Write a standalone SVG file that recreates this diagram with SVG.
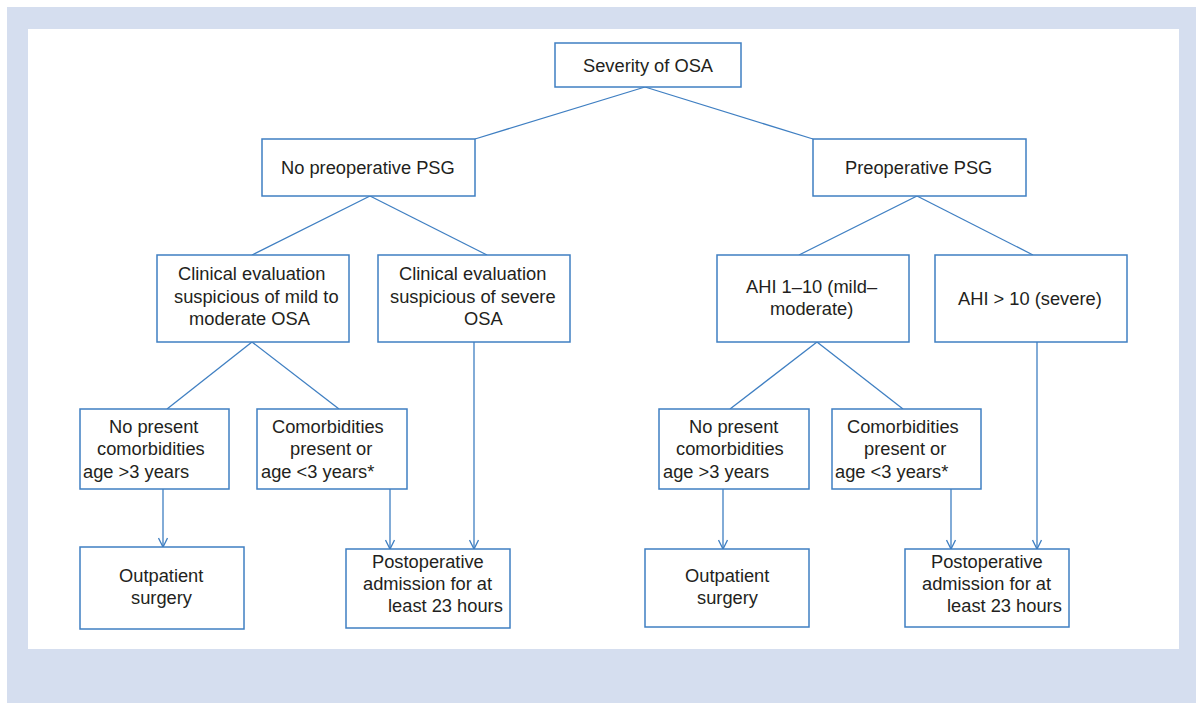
<svg xmlns="http://www.w3.org/2000/svg" width="1196" height="703" viewBox="0 0 1196 703">
<defs>
<style>
.box{fill:#fff;stroke:#3f7fc2;stroke-width:1.5}
.ln{fill:none;stroke:#3f7fc2;stroke-width:1.3}
text{font-family:"Liberation Sans",Arial,sans-serif;font-size:18.3px;fill:#231f20}
</style>
<marker id="arr" viewBox="0 0 12 10" refX="10" refY="5" markerWidth="12" markerHeight="10" markerUnits="userSpaceOnUse" orient="auto">
<path d="M1,0.5 L10,5 L1,9.5" fill="none" stroke="#3f7fc2" stroke-width="1.3"/>
</marker>
</defs>
<rect x="0" y="0" width="1196" height="703" fill="#fff"/>
<rect x="7" y="7" width="1189" height="696" fill="#d5deef"/>
<rect x="28" y="29" width="1151" height="620" fill="#fff"/>

<g id="connectors">
<path class="ln" d="M645,87 L475,139"/>
<path class="ln" d="M645,87 L813,139"/>
<path class="ln" d="M370,196 L252,255"/>
<path class="ln" d="M370,196 L487,255"/>
<path class="ln" d="M917,196 L799,255"/>
<path class="ln" d="M917,196 L1033,255"/>
<path class="ln" d="M252,342 L167,409"/>
<path class="ln" d="M252,342 L339,409"/>
<path class="ln" d="M817,342 L730,409"/>
<path class="ln" d="M817,342 L903,409"/>
<path class="ln" d="M163,489 L163,547" marker-end="url(#arr)"/>
<path class="ln" d="M390,489 L390,549" marker-end="url(#arr)"/>
<path class="ln" d="M474,342 L474,549" marker-end="url(#arr)"/>
<path class="ln" d="M723,489 L723,549" marker-end="url(#arr)"/>
<path class="ln" d="M951,489 L951,549" marker-end="url(#arr)"/>
<path class="ln" d="M1037,342 L1037,549" marker-end="url(#arr)"/>
</g>

<g id="severity">
<rect class="box" x="555" y="43" width="186" height="44"/>
<text x="583" y="72">Severity of OSA</text>
</g>
<g id="no-preop">
<rect class="box" x="262" y="139" width="213" height="57"/>
<text x="281" y="174">No preoperative PSG</text>
</g>
<g id="preop">
<rect class="box" x="813" y="139" width="213" height="57"/>
<text x="845" y="174">Preoperative PSG</text>
</g>
<g id="clin-mild">
<rect class="box" x="157" y="255" width="192" height="87"/>
<text x="178" y="280">Clinical evaluation</text>
<text x="174" y="303">suspicious of mild to</text>
<text x="189" y="325">moderate OSA</text>
</g>
<g id="clin-severe">
<rect class="box" x="378" y="255" width="192" height="87"/>
<text x="399" y="280">Clinical evaluation</text>
<text x="390" y="303">suspicious of severe</text>
<text x="464" y="325">OSA</text>
</g>
<g id="ahi-mild">
<rect class="box" x="717" y="255" width="192" height="87"/>
<text x="746" y="293">AHI 1–10 (mild–</text>
<text x="770" y="315">moderate)</text>
</g>
<g id="ahi-severe">
<rect class="box" x="935" y="255" width="192" height="87"/>
<text x="958" y="305">AHI &gt; 10 (severe)</text>
</g>
<g id="nocomorb-left">
<rect class="box" x="80" y="409" width="149" height="80"/>
<text x="109" y="433">No present</text>
<text x="97" y="455">comorbidities</text>
<text x="83" y="478">age &gt;3 years</text>
</g>
<g id="comorb-left">
<rect class="box" x="257" y="409" width="150" height="80"/>
<text x="272" y="433">Comorbidities</text>
<text x="290" y="455">present or</text>
<text x="261" y="478">age &lt;3 years*</text>
</g>
<g id="outpatient-left">
<rect class="box" x="80" y="547" width="164" height="82"/>
<text x="119" y="582">Outpatient</text>
<text x="131" y="604">surgery</text>
</g>
<g id="postop-left">
<rect class="box" x="346" y="549" width="164" height="79"/>
<text x="372" y="568">Postoperative</text>
<text x="363" y="590">admission for at</text>
<text x="388" y="612">least 23 hours</text>
</g>
<g id="nocomorb-right">
<rect class="box" x="659" y="409" width="150" height="80"/>
<text x="689" y="433">No present</text>
<text x="676" y="455">comorbidities</text>
<text x="663" y="478">age &gt;3 years</text>
</g>
<g id="comorb-right">
<rect class="box" x="832" y="409" width="149" height="80"/>
<text x="847" y="433">Comorbidities</text>
<text x="864" y="455">present or</text>
<text x="835" y="478">age &lt;3 years*</text>
</g>
<g id="outpatient-right">
<rect class="box" x="645" y="549" width="164" height="78"/>
<text x="685" y="582">Outpatient</text>
<text x="697" y="604">surgery</text>
</g>
<g id="postop-right">
<rect class="box" x="905" y="549" width="164" height="78"/>
<text x="931" y="568">Postoperative</text>
<text x="922" y="590">admission for at</text>
<text x="947" y="612">least 23 hours</text>
</g>
</svg>
